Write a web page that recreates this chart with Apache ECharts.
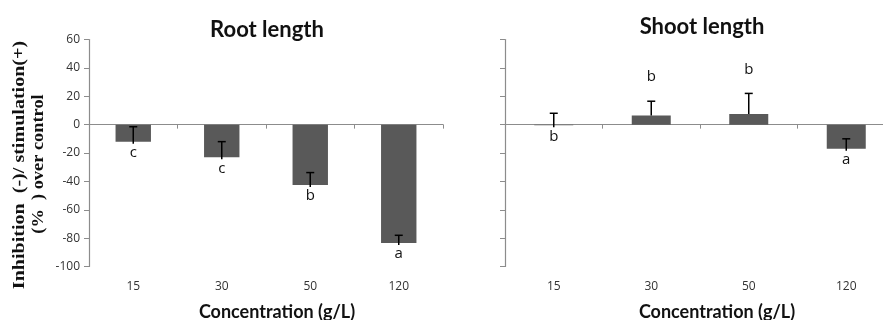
<!DOCTYPE html>
<html><head><meta charset="utf-8">
<script src="https://cdn.jsdelivr.net/npm/echarts@6/dist/echarts.min.js"></script>
<style>html,body{margin:0;padding:0;background:#fff}#c{width:883px;height:320px}</style>
</head><body><div id="c"></div>
<script>
const categories = ['15', '30', '50', '120'];
const rootValues = [-12, -23, -42.5, -83.5];
const rootErrors = [10.5, 11, 8.7, 5.5];
const rootLetters = ['c', 'c', 'b', 'a'];
const shootValues = [-0.5, 6.5, 7.5, -17];
const shootErrors = [8.5, 10, 14.5, 7];
const shootLetters = ['b', 'b', 'b', 'a'];
const yTicks = { min: -100, max: 60, interval: 20 };
const yNameLines = ['Inhibition  (-)/ stimulation(+)', '(%  ) over control'];

const chart = echarts.init(document.getElementById('c'));
const axisGray = '#8c8c8c';
const barColor = '#595959';

function errItem(params, api) {
  const x = api.value(0), v = api.value(1), e = api.value(2), letter = api.value(3);
  const base = api.coord([x, v]);
  const tip = api.coord([x, v + e]);
  const children = [
    { type: 'line', shape: { x1: base[0], y1: base[1] + (v < 0 ? 2 : 0), x2: tip[0], y2: tip[1] }, style: { stroke: '#000', lineWidth: 1.5 } },
    { type: 'line', shape: { x1: tip[0] - 4, y1: tip[1], x2: tip[0] + 4, y2: tip[1] }, style: { stroke: '#000', lineWidth: 1.5 } }
  ];
  const ly = v < 0 ? base[1] + 11 : tip[1] - 24;
  children.push({ type: 'text', x: base[0], y: ly, style: { text: letter, fill: '#111', font: '15px "Open Sans", sans-serif', align: 'center', verticalAlign: 'middle' } });
  return { type: 'group', children };
}

function mkData(vals, errs, letters) {
  return vals.map((v, i) => [i, v, errs[i], letters[i]]);
}

const grids = [
  { left: 89, top: 39.5, width: 354, height: 227, outerBoundsMode: 'none', containLabel: false },
  { left: 505, top: 39.5, width: 390, height: 227, outerBoundsMode: 'none', containLabel: false }
];
const namePad = [22, 34];

const xAxes = [], yAxes = [];
[0, 1].forEach(g => {
  xAxes.push({
    type: 'category', gridIndex: g, data: categories,
    axisLine: { onZero: true, lineStyle: { color: axisGray, width: 1.2 } },
    axisTick: { show: true, length: 4, lineStyle: { color: axisGray } },
    axisLabel: { show: false }
  });
  xAxes.push({
    type: 'category', gridIndex: g, data: categories, position: 'bottom',
    axisLine: { show: false, onZero: false }, axisTick: { show: false },
    axisLabel: { margin: 14, color: '#333', fontSize: 12, fontFamily: '"Open Sans", sans-serif' },
    name: 'Concentration (g/L)', nameLocation: 'middle', nameGap: 37,
    nameTextStyle: { fontSize: 18, fontWeight: 'bold', color: '#111', fontFamily: 'Lato, sans-serif', padding: [0, 0, 0, namePad[g]] }
  });
  yAxes.push({
    type: 'value', gridIndex: g, min: yTicks.min, max: yTicks.max, interval: yTicks.interval,
    splitLine: { show: false },
    axisLine: { show: true, lineStyle: { color: axisGray, width: 1.2 } },
    axisTick: { show: true, length: 5, lineStyle: { color: axisGray } },
    axisLabel: { show: g === 0, color: '#333', fontSize: 12, margin: 9, fontFamily: '"Open Sans", sans-serif' }
  });
});

chart.setOption({
  animation: false,
  title: [
    { text: 'Root length', left: 262, top: 14, textAlign: 'center', textStyle: { fontSize: 22, fontWeight: 'bold', color: '#111', fontFamily: 'Lato, sans-serif' } },
    { text: 'Shoot length', left: 697, top: 11, textAlign: 'center', textStyle: { fontSize: 22, fontWeight: 'bold', color: '#111', fontFamily: 'Lato, sans-serif' } }
  ],
  graphic: [
    { type: 'text', x: 20, y: 165, rotation: Math.PI / 2, scaleX: 1.18, style: { text: yNameLines[0], font: 'bold 17px "Liberation Serif", serif', fill: '#111', align: 'center', verticalAlign: 'middle' } },
    { type: 'text', x: 39, y: 164, rotation: Math.PI / 2, scaleX: 1.08, style: { text: yNameLines[1], font: 'bold 17px "Liberation Serif", serif', fill: '#111', align: 'center', verticalAlign: 'middle' } }
  ],
  grid: grids,
  xAxis: xAxes,
  yAxis: yAxes,
  series: [
    { type: 'bar', xAxisIndex: 0, yAxisIndex: 0, data: rootValues, barWidth: '40%', itemStyle: { color: barColor } },
    { type: 'custom', xAxisIndex: 0, yAxisIndex: 0, renderItem: errItem, data: mkData(rootValues, rootErrors, rootLetters), z: 5 },
    { type: 'bar', xAxisIndex: 2, yAxisIndex: 1, data: shootValues, barWidth: '40%', itemStyle: { color: barColor } },
    { type: 'custom', xAxisIndex: 2, yAxisIndex: 1, renderItem: errItem, data: mkData(shootValues, shootErrors, shootLetters), z: 5 }
  ]
});
</script></body></html>
